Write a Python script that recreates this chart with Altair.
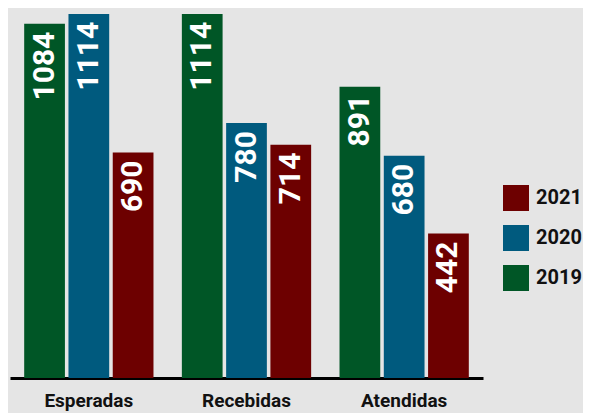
import altair as alt
import pandas as pd

categorias = ["Esperadas", "Recebidas", "Atendidas"]
anos = ["2019", "2020", "2021"]
v2019 = [1084, 1114, 891]
v2020 = [1114, 780, 680]
v2021 = [690, 714, 442]

rows = []
for i, c in enumerate(categorias):
    for a, vals in zip(anos, [v2019, v2020, v2021]):
        rows.append({"Categoria": c, "Ano": a, "Valor": vals[i]})
df = pd.DataFrame(rows)

FONT = "Roboto"

base = alt.Chart(df).encode(
    x=alt.X("Categoria:N", sort=categorias,
            scale=alt.Scale(paddingInner=0.18, paddingOuter=0.09),
            axis=alt.Axis(title=None, labelAngle=0, ticks=False, labelPadding=13,
                          labelFont=FONT, labelFontSize=19, labelFontWeight="bold",
                          labelColor="#111111", domainColor="#000000", domainWidth=3)),
    xOffset=alt.XOffset("Ano:N", sort=anos, scale=alt.Scale(paddingInner=0.08)),
    y=alt.Y("Valor:Q", scale=alt.Scale(domain=[0, 1132], nice=False), axis=None),
)

bars = base.mark_bar().encode(
    color=alt.Color("Ano:N",
                    scale=alt.Scale(domain=["2021", "2020", "2019"],
                                    range=["#6d0000", "#005a7e", "#005626"]),
                    legend=alt.Legend(title=None, orient="none", legendX=493, legendY=177,
                                      symbolType="square", symbolSize=676, symbolStrokeWidth=0,
                                      labelFont=FONT, labelFontSize=20, labelFontWeight="bold",
                                      labelColor="#111111", labelOffset=7, rowPadding=14,
                                      padding=0))
)

labels = base.mark_text(angle=270, align="right", baseline="middle", dx=-8,
                        color="white", font=FONT, fontSize=30, fontWeight="bold").encode(
    text="Valor:Q"
)

chart = alt.layer(bars, labels).properties(
    width=473, height=370,
    autosize=alt.AutoSizeParams(type="none"),
    padding={"left": 2, "top": 0, "right": 100, "bottom": 35},
    background="#e5e5e5",
).configure_view(stroke=None)

chart.save("out.html", embed_options={"renderer": "svg", "actions": False})
